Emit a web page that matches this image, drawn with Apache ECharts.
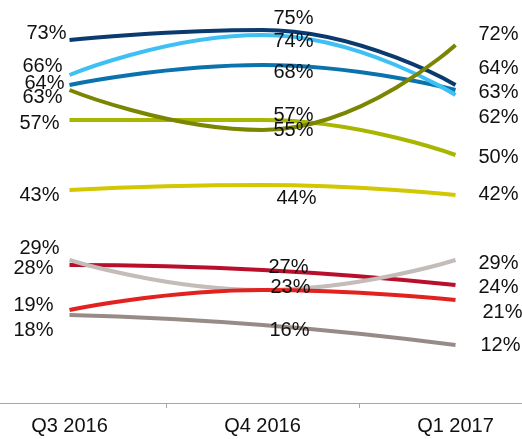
<!DOCTYPE html>
<html>
<head>
<meta charset="utf-8">
<script src="https://cdn.jsdelivr.net/npm/echarts@6/dist/echarts.min.js"></script>
<style>
  html, body { margin: 0; padding: 0; background: #fff; }
  #chart { width: 522px; height: 439px; }
</style>
</head>
<body>
<div id="chart"></div>
<script>
// categories and values (percent)
const categories = ['Q3 2016', 'Q4 2016', 'Q1 2017']
const navyValues = [73, 75, 64]
const steelValues = [64, 68, 63]
const skyValues = [66, 74, 62]
const yellowValues = [43, 44, 42]
const limeValues = [57, 57, 50]
const oliveValues = [63, 55, 72]
const taupeValues = [18, 16, 12]
const crimsonValues = [28, 27, 24]
const silverValues = [29, 23, 29]
const redValues = [19, 23, 21]

// label nudges [dx, dy] for start / middle / end point, null = no label
const lines = [
  { values: navyValues, color: '#0b3a6e', offsets: [[2, -7], [31, -12], [18, -17]] },
  { values: steelValues, color: '#0a72ad', offsets: [[0, -2], [31, 7], [18, 2]] },
  { values: skyValues, color: '#3fc0f5', offsets: [[-2, -9], [31, 6], [18, 22]] },
  { values: yellowValues, color: '#d2c700', offsets: [[-5, 5], [34, 13], [18, -1]] },
  { values: limeValues, color: '#a8b600', offsets: [[-5, 3], [31, -5], [18, 2]] },
  { values: oliveValues, color: '#7a8500', offsets: [[-2, 7], [31, 0], [18, -11]] },
  { values: taupeValues, color: '#978b88', offsets: [[-11, 15], [27, 5], [20, 0]] },
  { values: crimsonValues, color: '#b90f2c', offsets: [[-11, 3], [26, -3], [18, 2]] },
  { values: silverValues, color: '#c3bcb9', offsets: [[-5, -12], [28, -3], [18, 3]] },
  { values: redValues, color: '#e2221f', offsets: [[-11, -5], null, [22, 12]] }
]

const positions = ['left', 'inside', 'right']

const chart = echarts.init(document.getElementById('chart'))

const series = lines.map(line => ({
  type: 'line',
  smooth: 0.5,
  symbol: 'circle',
  symbolSize: 0,
  itemStyle: { color: line.color },
  lineStyle: { color: line.color, width: 4 },
  data: line.values.map((v, i) => {
    const off = line.offsets[i]
    return {
      value: v,
      label: off
        ? { show: true, position: positions[i], offset: off }
        : { show: false }
    }
  }),
  label: {
    show: true,
    formatter: '{c}%',
    color: '#111',
    fontSize: 20,
    fontFamily: 'Liberation Sans, Arial, sans-serif'
  },
  emphasis: { disabled: true },
  animation: false
}))

chart.setOption({
  backgroundColor: '#fff',
  grid: {
    left: -27,
    right: -30,
    top: 5,
    bottom: 34,
    containLabel: false,
    outerBoundsMode: 'none'
  },
  xAxis: {
    type: 'category',
    data: categories,
    boundaryGap: true,
    offset: -2,
    axisLine: { show: true, lineStyle: { color: '#a6a6a6', width: 1 } },
    axisTick: { show: true, length: 5, lineStyle: { color: '#a6a6a6' } },
    axisLabel: {
      color: '#111',
      fontSize: 20,
      margin: 13,
      fontFamily: 'Liberation Sans, Arial, sans-serif'
    },
    splitLine: { show: false }
  },
  yAxis: {
    type: 'value',
    min: 0,
    max: 80,
    show: false
  },
  series: series
})
</script>
</body>
</html>
